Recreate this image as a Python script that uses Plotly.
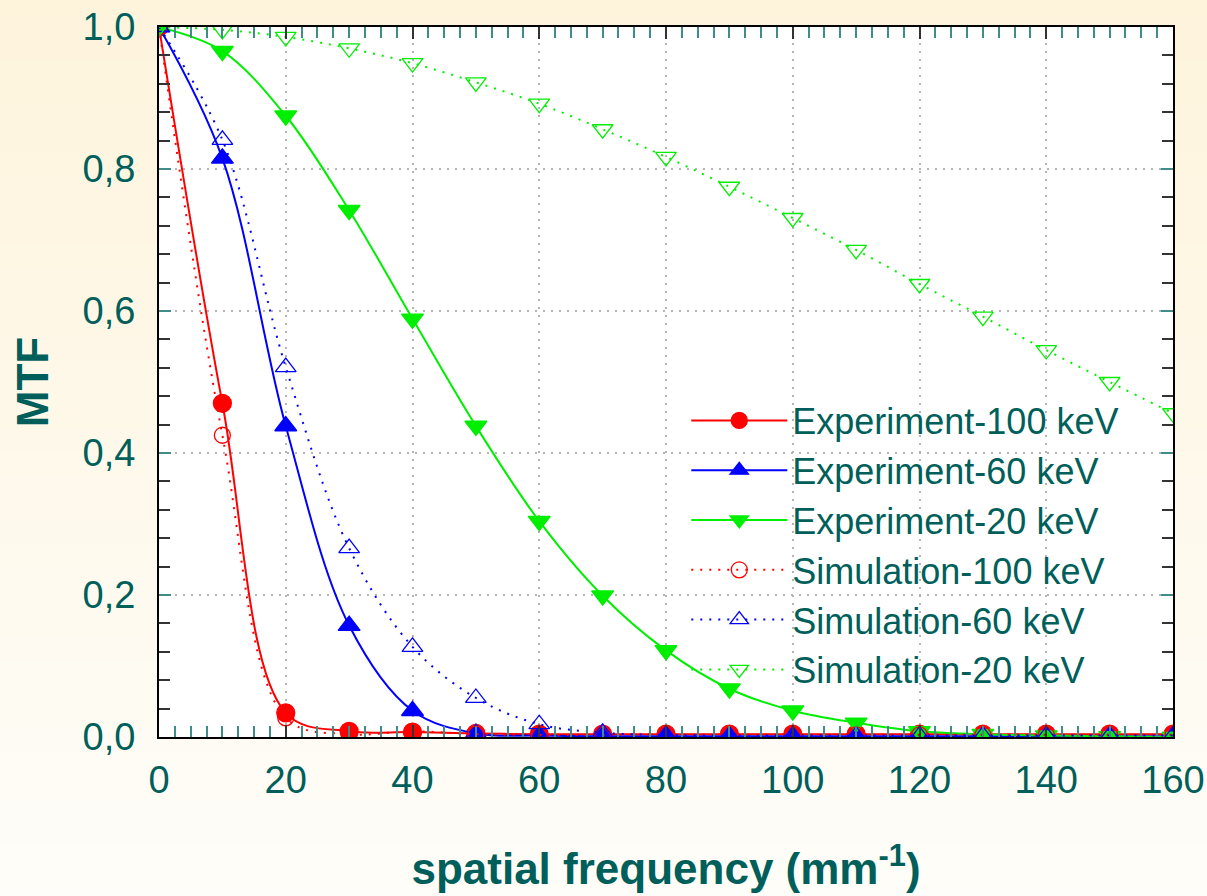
import plotly.graph_objects as go

freq = [0, 10, 20, 30, 40, 50, 60, 70, 80, 90, 100, 110, 120, 130, 140, 150, 160]

exp_100 = [1.0, 0.470, 0.034, 0.008, 0.007, 0.005, 0.004, 0.004, 0.004, 0.004, 0.004, 0.004, 0.004, 0.004, 0.004, 0.004, 0.004]
exp_60 = [1.0, 0.815, 0.438, 0.157, 0.037, 0.005, 0.002, 0.001, 0.001, 0.001, 0.001, 0.001, 0.001, 0.001, 0.001, 0.001, 0.001]
exp_20 = [1.0, 0.966, 0.875, 0.742, 0.589, 0.438, 0.304, 0.199, 0.122, 0.068, 0.037, 0.020, 0.008, 0.004, 0.002, 0.001, 0.000]
sim_100 = [1.0, 0.425, 0.027, 0.004, 0.008, 0.004, 0.003, 0.003, 0.003, 0.003, 0.003, 0.003, 0.003, 0.003, 0.003, 0.003, 0.003]
sim_60 = [1.0, 0.841, 0.521, 0.266, 0.127, 0.055, 0.018, 0.006, 0.003, 0.002, 0.002, 0.002, 0.002, 0.002, 0.002, 0.002, 0.002]
sim_20 = [1.0, 0.996, 0.986, 0.970, 0.949, 0.922, 0.892, 0.856, 0.817, 0.775, 0.731, 0.686, 0.638, 0.592, 0.545, 0.500, 0.456]

x_ticks = [0, 20, 40, 60, 80, 100, 120, 140, 160]
y_ticks = [0.0, 0.2, 0.4, 0.6, 0.8, 1.0]
y_labels = ["0,0", "0,2", "0,4", "0,6", "0,8", "1,0"]

TEAL = "#005f5a"
RED = "#ff0000"
BLUE = "#0000ff"
GREEN = "#00ee00"
FONT = "Liberation Sans, Arial, sans-serif"
DOT = "2px,7px"

fig = go.Figure()

series = [
    ("Experiment-100 keV", exp_100, RED, "solid", "circle", 18),
    ("Experiment-60 keV", exp_60, BLUE, "solid", "triangle-up", 19),
    ("Experiment-20 keV", exp_20, GREEN, "solid", "triangle-down", 19),
    ("Simulation-100 keV", sim_100, RED, DOT, "circle-open", 16),
    ("Simulation-60 keV", sim_60, BLUE, DOT, "triangle-up-open", 18),
    ("Simulation-20 keV", sim_20, GREEN, DOT, "triangle-down-open", 18),
]
for name, vals, col, dash, sym, size in series:
    fig.add_trace(go.Scatter(
        x=freq, y=vals, name=name, mode="lines+markers",
        line=dict(color=col, width=2, dash=dash, shape="spline", smoothing=1.0),
        marker=dict(symbol=sym, size=size, color=col, line=dict(color=col, width=1.3)),
        cliponaxis=True,
    ))

# background gradient (cream at top fading to near-white at bottom)
shapes = []
n = 40
top = (254, 244, 220)
bot = (254, 253, 249)
for i in range(n):
    t = i / (n - 1)
    c = tuple(round(top[k] + (bot[k] - top[k]) * t) for k in range(3))
    shapes.append(dict(type="rect", xref="paper", yref="paper", layer="below",
                       x0=-0.2, x1=1.1, y0=1.05 - (i + 1) * 1.30 / n, y1=1.05 - i * 1.30 / n + 0.002,
                       fillcolor="rgb(%d,%d,%d)" % c, line=dict(width=0)))
shapes.append(dict(type="rect", xref="x domain", yref="y domain", layer="below",
                   x0=0, x1=1, y0=0, y1=1, fillcolor="white", line=dict(width=0)))

fig.update_layout(
    width=1207, height=896,
    margin=dict(l=159, r=34, t=27, b=159, autoexpand=False),
    paper_bgcolor="rgb(254,249,236)",
    plot_bgcolor="white",
    font=dict(family=FONT, color=TEAL, size=36),
    shapes=shapes,
    showlegend=True,
    legend=dict(
        x=0.52, y=0.488, xanchor="left", yanchor="top",
        bgcolor="rgba(0,0,0,0)", borderwidth=0,
        font=dict(family=FONT, size=36, color=TEAL),
        itemwidth=96, tracegroupgap=0,
    ),
)

fig.update_xaxes(
    range=[0, 160], tickvals=x_ticks, ticktext=[str(v) for v in x_ticks],
    automargin=False,
    showline=True, linecolor="black", linewidth=2, mirror="allticks",
    ticks="inside", ticklen=12, tickcolor="#333333", tickwidth=2,
    minor=dict(dtick=2.5, tick0=0, ticks="inside", ticklen=11, tickcolor="#3f8c88", tickwidth=2, showgrid=False),
    showgrid=True, gridcolor="#b5b5b5", griddash="2px,6px", gridwidth=1.5,
    zeroline=False,
    tickfont=dict(family=FONT, size=38, color=TEAL),
    ticklabelstandoff=8,
    title=dict(text="<b>spatial frequency (mm<sup>-1</sup>)</b>",
               font=dict(family=FONT, size=44, color=TEAL), standoff=54),
)
fig.update_yaxes(
    range=[0, 1], tickvals=y_ticks, ticktext=y_labels,
    automargin=False,
    showline=True, linecolor="black", linewidth=2, mirror="allticks",
    ticks="inside", ticklen=12, tickcolor="#3f8c88", tickwidth=2,
    minor=dict(dtick=0.04, tick0=0, ticks="inside", ticklen=11, tickcolor="#333333", tickwidth=2, showgrid=False),
    showgrid=True, gridcolor="#b5b5b5", griddash="2px,6px", gridwidth=1.5,
    zeroline=False,
    tickfont=dict(family=FONT, size=38, color=TEAL),
    ticklabelstandoff=14,
    title=dict(text="<b>MTF</b>", font=dict(family=FONT, size=44, color=TEAL), standoff=20),
)

fig.write_html("out.html", config={"displayModeBar": False},
               post_script="document.body.style.margin='0';document.body.style.overflow='hidden';")
